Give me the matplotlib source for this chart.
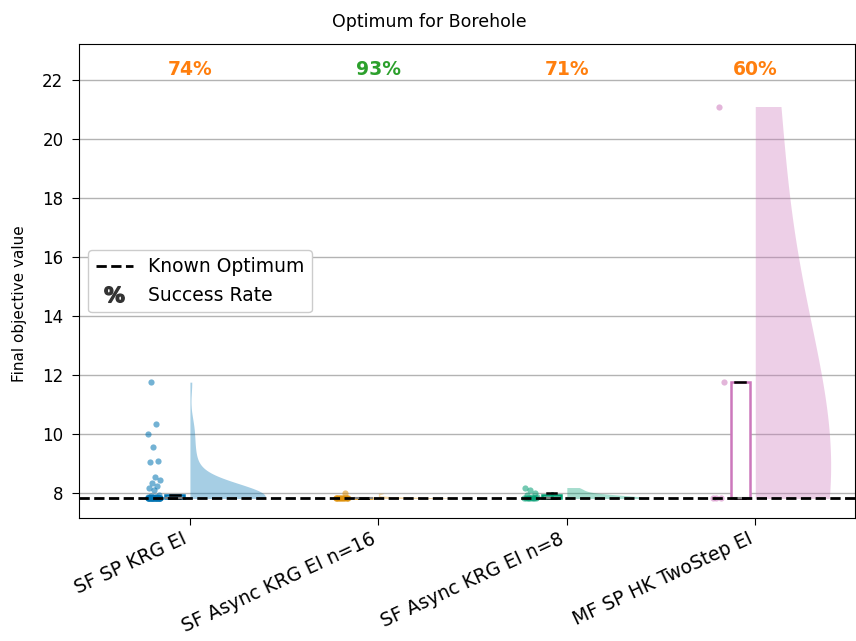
import matplotlib
matplotlib.use("Agg")
import matplotlib.pyplot as plt
import numpy as np
from matplotlib.lines import Line2D

# Final objective values per method
methods = ["SF SP KRG EI", "SF Async KRG EI n=16", "SF Async KRG EI n=8", "MF SP HK TwoStep EI"]

sf_sp_krg = [7.820, 7.820, 7.820, 7.820, 7.820, 7.820, 7.821, 7.821, 7.821, 7.822,
             7.822, 7.822, 7.823, 7.823, 7.824, 7.825, 7.825, 7.826, 7.827, 7.828,
             7.829, 7.830, 7.831, 7.833, 7.835, 7.837, 7.840, 7.843, 7.846, 7.850,
             7.854, 7.858, 7.863, 7.868, 7.874, 7.881, 7.889,
             7.950, 8.120, 8.180, 8.240, 8.350, 8.450, 8.550, 9.050, 9.090,
             9.560, 10.010, 10.330, 11.760]
sf_async_16 = [7.820, 7.820, 7.820, 7.820, 7.820, 7.821, 7.821, 7.822, 7.822, 7.823,
               7.824, 7.825, 7.827, 7.830, 8.000]
sf_async_8 = [7.820, 7.820, 7.821, 7.822, 7.825, 7.830, 7.840, 7.850, 7.860, 7.880,
              7.950, 8.000, 8.100, 8.190]
mf_sp_hk = [7.820, 7.820, 7.820, 11.750, 21.100]

all_values = [sf_sp_krg, sf_async_16, sf_async_8, mf_sp_hk]
success_rates = [74, 93, 71, 60]
known_optimum = 7.8198

colors = ["#0173b2", "#de8f05", "#029e73", "#cc78bc"]


def kde_curve(values, npts=300, bw_adjust=1.25):
    # gaussian kde with scott bandwidth, cut at data range
    v = np.asarray(values, dtype=float)
    bw = v.std(ddof=1) * len(v) ** (-1 / 5) * bw_adjust
    y = np.linspace(v.min(), v.max(), npts)
    dens = np.exp(-0.5 * ((y[:, None] - v[None, :]) / bw) ** 2).sum(axis=1)
    return y, dens / dens.max()


fig = plt.figure(figsize=(8.56, 6.41), dpi=100)
ax = fig.add_axes([0.092, 0.192, 0.907, 0.739])

ax.yaxis.grid(True, color="0.7", linewidth=1, zorder=0)
ax.set_axisbelow(True)

for i, vals in enumerate(all_values):
    c = colors[i]
    # half violin
    y, d = kde_curve(vals)
    ax.fill_betweenx(y, i, i + 0.4 * d, color=c, alpha=0.35, linewidth=0, zorder=1)

    # box
    ax.boxplot([vals], positions=[i - 0.08], widths=0.1, showfliers=False,
               patch_artist=True, manage_ticks=False,
               boxprops=dict(facecolor="white", edgecolor=c, linewidth=1.8),
               whiskerprops=dict(color=c, linewidth=1.8),
               capprops=dict(color="black", linewidth=1.8),
               medianprops=dict(color="grey", linewidth=1.5),
               zorder=2)

    # rain (deterministic jitter)
    n = len(vals)
    jit = ((np.arange(n) * 0.618034) % 1.0 - 0.5) * 0.07
    ax.scatter(i - 0.19 + jit, vals, s=20, color=c, alpha=0.55,
               linewidths=0, zorder=3)

ymax = max(max(v) for v in all_values)
for i, rate in enumerate(success_rates):
    tc = "#2ca02c" if rate >= 90 else "#ff7f0e"
    ax.text(i, ymax * 1.06, f"{rate}%", ha="center", va="center",
            fontsize=13.5, fontweight="bold", color=tc)

ax.axhline(known_optimum, color="black", linestyle="--", linewidth=2, zorder=4)

ax.set_xlim(-0.59, 3.53)
ax.set_ylim(7.16, ymax * 1.1)
ax.set_yticks(np.arange(8, 23, 2))
ax.set_xticks(range(len(methods)))
ax.set_xticklabels(methods, rotation=25, ha="right", fontsize=13.5)
ax.tick_params(axis="y", labelsize=12, length=5, pad=6)
ax.tick_params(axis="x", length=5, pad=3)

# title and y label sit on the figure, not centred on the axes
fig.text(0.501, 0.966, "Optimum for Borehole", ha="center", va="center", fontsize=12.5)
fig.text(0.023, 0.526, "Final objective value", ha="center", va="center",
         rotation=90, fontsize=11)

handles = [
    Line2D([0], [0], color="black", linestyle="--", linewidth=2),
    Line2D([0], [0], linestyle="none", marker=r"$\mathbf{\%}$", markersize=14,
           color="#333333"),
]
ax.legend(handles, ["Known Optimum", "Success Rate"], loc="center left",
          fontsize=13.5, framealpha=1)

fig.savefig("out.png", dpi=100)
